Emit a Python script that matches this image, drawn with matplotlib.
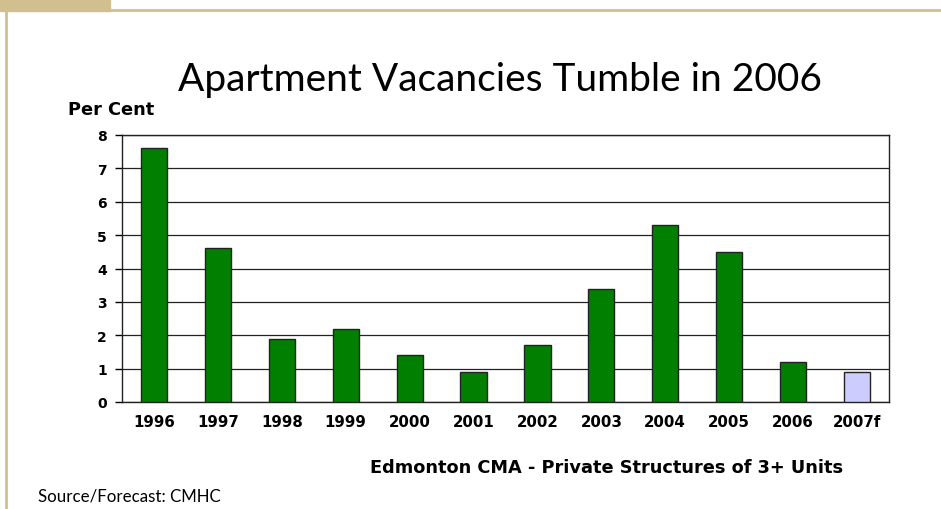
import matplotlib.pyplot as plt
from matplotlib.patches import Rectangle
from matplotlib.lines import Line2D

plt.rcParams['font.family'] = ['Lato', 'DejaVu Sans']

years = ["1996", "1997", "1998", "1999", "2000", "2001", "2002", "2003", "2004", "2005", "2006", "2007f"]
vacancy = [7.6, 4.6, 1.9, 2.2, 1.4, 0.9, 1.7, 3.4, 5.3, 4.5, 1.2, 0.9]
colors = ["#007F00"] * 11 + ["#CCCCFF"]

fig = plt.figure(figsize=(9.41, 5.10), dpi=100)
W, H = 941, 510
bold = ['DejaVu Sans']

# slide decorations
tan = "#D1C08F"
fig.patches.append(Rectangle((0, 1 - 12 / H), 110 / W, 12 / H, transform=fig.transFigure, color=tan, zorder=0))
fig.lines.append(Line2D([110 / W, 1], [1 - 11 / H, 1 - 11 / H], transform=fig.transFigure, color=tan, lw=2))
fig.lines.append(Line2D([5.5 / W, 5.5 / W], [0, 1 - 12 / H], transform=fig.transFigure, color=tan, lw=2))

ax = fig.add_axes([122 / W, 1 - 403 / H, 767 / W, 267 / H])
x = range(len(years))
ax.bar(x, vacancy, width=0.41, color=colors, edgecolor="#222222", linewidth=1, zorder=3)
ax.set_xlim(-0.5, len(years) - 0.5)
ax.set_ylim(0, 8)
ax.set_yticks(range(0, 9))
ax.grid(axis="y", color="#222222", linewidth=0.9, zorder=0)
for s in ax.spines.values():
    s.set_color("#222222")
    s.set_linewidth(1)
ax.set_xticks(list(x))
ax.set_xticklabels(years, fontweight="bold", fontsize=10.8, family=bold)
ax.tick_params(axis="x", length=0, pad=9)
ax.tick_params(axis="y", length=5, width=1, labelsize=10, pad=6)
for t in ax.get_yticklabels():
    t.set_fontweight("bold")
    t.set_family(bold)

fig.text(500 / W, 1 - 80 / H, "Apartment Vacancies Tumble in 2006", ha="center", va="center", fontsize=28)
fig.text(68 / W, 1 - 110 / H, "Per Cent", ha="left", va="center", fontsize=12.8, fontweight="bold", family=bold)
fig.text(607 / W, 1 - 468 / H, "Edmonton CMA - Private Structures of 3+ Units", ha="center", va="center",
         fontsize=12.8, fontweight="bold", family=bold)
fig.text(38 / W, 1 - 497 / H, "Source/Forecast: CMHC", ha="left", va="center", fontsize=12.2)

fig.savefig("out.png", dpi=100)
